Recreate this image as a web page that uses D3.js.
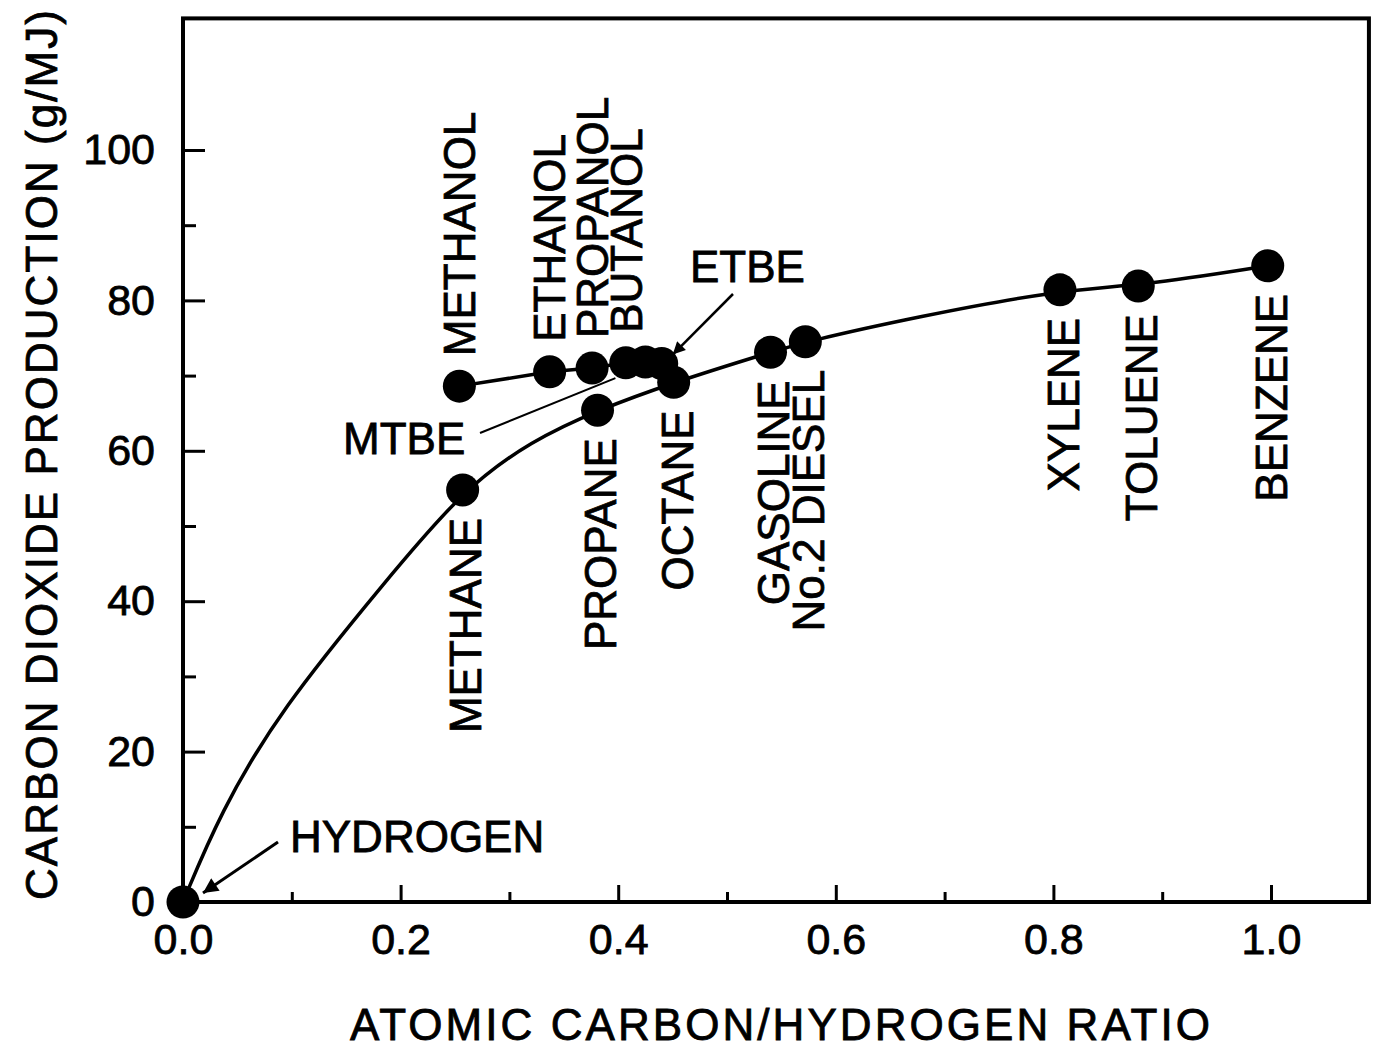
<!DOCTYPE html>
<html>
<head>
<meta charset="utf-8">
<script src="https://cdn.jsdelivr.net/npm/d3@7"></script>
<style>
  body { margin: 0; background: #fff; }
  text { font-family: "Liberation Sans", Arial, Helvetica, sans-serif; fill: #000; stroke: #000; stroke-width: 0.8px; }
</style>
</head>
<body>
<svg id="chart" width="1374" height="1055"></svg>
<script>
// points along the drawn hydrocarbon curve
var curveX = [0, 0.034, 0.089, 0.187, 0.257, 0.321, 0.381, 0.451, 0.540, 0.572, 0.674, 0.806, 0.878, 0.997];
var curveY = [0, 11.8, 25.5, 42.8, 54.8, 61.4, 65.4, 69.1, 73.1, 74.5, 77.8, 81.4, 81.9, 84.6];

// hydrogen + hydrocarbon fuels
var hcNames = ["HYDROGEN", "METHANE", "PROPANE", "OCTANE", "GASOLINE", "No.2 DIESEL", "XYLENE", "TOLUENE", "BENZENE"];
var hcX = [0, 0.257, 0.381, 0.451, 0.540, 0.572, 0.806, 0.878, 0.997];
var hcY = [0, 54.8, 65.4, 69.1, 73.1, 74.5, 81.4, 81.9, 84.6];

// alcohols and ethers
var oxyNames = ["METHANOL", "ETHANOL", "PROPANOL", "BUTANOL", "MTBE", "ETBE"];
var oxyX = [0.254, 0.337, 0.376, 0.407, 0.425, 0.440];
var oxyY = [68.6, 70.5, 71.0, 71.7, 71.8, 71.6];

var xTicks = [0, 0.2, 0.4, 0.6, 0.8, 1.0];
var xMinor = [0.1, 0.3, 0.5, 0.7, 0.9];
var yTicks = [0, 20, 40, 60, 80, 100];
var yMinor = [10, 30, 50, 70, 90];

var svg = d3.select("#chart");

var x = d3.scaleLinear().domain([0, 1]).range([183, 1271]);
var y = d3.scaleLinear().domain([0, 100]).range([902, 150]);
var xMax = 1.09, yMax = 117.5;

// frame
svg.append("rect")
  .attr("x", x(0)).attr("y", y(yMax))
  .attr("width", x(xMax) - x(0)).attr("height", y(0) - y(yMax))
  .attr("fill", "none").attr("stroke", "#000").attr("stroke-width", 4);

// axes, ticks pointing inward
svg.append("g").attr("transform", "translate(0," + y(0) + ")")
  .call(d3.axisBottom(x).tickValues(xTicks).tickSize(-17).tickPadding(21).tickFormat(d3.format(".1f")));
svg.append("g").attr("transform", "translate(0," + y(0) + ")")
  .call(d3.axisBottom(x).tickValues(xMinor).tickSize(-10).tickFormat(""));
svg.append("g").attr("transform", "translate(" + x(0) + ",0)")
  .call(d3.axisLeft(y).tickValues(yTicks).tickSize(-22).tickPadding(28));
svg.append("g").attr("transform", "translate(" + x(0) + ",0)")
  .call(d3.axisLeft(y).tickValues(yMinor).tickSize(-13).tickFormat(""));

svg.selectAll(".domain").remove();
svg.selectAll(".tick line").attr("stroke", "#000").attr("stroke-width", 3);
svg.selectAll(".tick text")
  .attr("font-size", 43)
  .attr("font-family", "Liberation Sans, Arial, sans-serif")
  .attr("fill", "#000");

// axis titles
svg.append("text")
  .attr("x", 780).attr("y", 1040)
  .attr("text-anchor", "middle")
  .attr("font-size", 44)
  .attr("textLength", 860).attr("lengthAdjust", "spacing")
  .text("ATOMIC CARBON/HYDROGEN RATIO");

svg.append("text")
  .attr("transform", "translate(57,455) rotate(-90)")
  .attr("text-anchor", "middle")
  .attr("font-size", 44)
  .attr("textLength", 890).attr("lengthAdjust", "spacing")
  .text("CARBON DIOXIDE PRODUCTION (g/MJ)");

// lines
var hcCurve = curveX.map(function(d, i) { return [d, curveY[i]]; });
var oxyLine = oxyX.map(function(d, i) { return [d, oxyY[i]]; });

var line = d3.line()
  .x(function(d) { return x(d[0]); })
  .y(function(d) { return y(d[1]); })
  .curve(d3.curveBasis);

svg.append("path").datum(hcCurve)
  .attr("d", line).attr("fill", "none").attr("stroke", "#000").attr("stroke-width", 3.5);
svg.append("path").datum(oxyLine)
  .attr("d", line.curve(d3.curveLinear)).attr("fill", "none").attr("stroke", "#000").attr("stroke-width", 3.5);

// dots
var hcPts = hcNames.map(function(n, i) { return {name: n, x: hcX[i], y: hcY[i]}; });
var oxyPts = oxyNames.map(function(n, i) { return {name: n, x: oxyX[i], y: oxyY[i]}; });

svg.append("g").selectAll("circle")
  .data(hcPts.concat(oxyPts))
  .enter().append("circle")
  .attr("cx", function(d) { return x(d.x); })
  .attr("cy", function(d) { return y(d.y); })
  .attr("r", 16.5)
  .attr("fill", "#000");

// vertical labels: alcohols above, hydrocarbons below
var above = oxyPts.slice(0, 4);
var below = hcPts.slice(1);

svg.append("g").selectAll("text")
  .data(above).enter().append("text")
  .attr("transform", function(d) { return "translate(" + x(d.x) + "," + (y(d.y) - 30) + ") rotate(-90)"; })
  .attr("dy", "0.36em")
  .attr("font-size", 44)
  .text(function(d) { return d.name; });

svg.append("g").selectAll("text")
  .data(below).enter().append("text")
  .attr("transform", function(d) { return "translate(" + (x(d.x) + 3) + "," + (y(d.y) + 28) + ") rotate(-90)"; })
  .attr("dy", "0.36em")
  .attr("text-anchor", "end")
  .attr("font-size", 44)
  .text(function(d) { return d.name; });

// callouts
svg.append("defs").append("marker")
  .attr("id", "arrow")
  .attr("viewBox", "0 0 10 10")
  .attr("refX", 10).attr("refY", 5)
  .attr("markerWidth", 9).attr("markerHeight", 5)
  .attr("markerUnits", "strokeWidth")
  .attr("orient", "auto")
  .append("path").attr("d", "M0,0L10,5L0,10z").attr("fill", "#000");

var h2 = hcPts[0], mtbe = oxyPts[4], etbe = oxyPts[5];

svg.append("text").attr("x", 290).attr("y", 852).attr("font-size", 44).text("HYDROGEN");
svg.append("line")
  .attr("x1", 278).attr("y1", 842)
  .attr("x2", x(h2.x) + 20).attr("y2", y(h2.y) - 9)
  .attr("stroke", "#000").attr("stroke-width", 3)
  .attr("marker-end", "url(#arrow)");

svg.append("text").attr("x", 690).attr("y", 282).attr("font-size", 44).text("ETBE");
svg.append("line")
  .attr("x1", 733).attr("y1", 294)
  .attr("x2", x(etbe.x) + 11).attr("y2", y(etbe.y) - 9)
  .attr("stroke", "#000").attr("stroke-width", 2.5)
  .attr("marker-end", "url(#arrow)");

svg.append("text").attr("x", 343).attr("y", 454).attr("font-size", 44).text("MTBE");
svg.append("line")
  .attr("x1", 480).attr("y1", 433)
  .attr("x2", x(mtbe.x) - 30).attr("y2", y(mtbe.y) + 16)
  .attr("stroke", "#000").attr("stroke-width", 2);
</script>
</body>
</html>
